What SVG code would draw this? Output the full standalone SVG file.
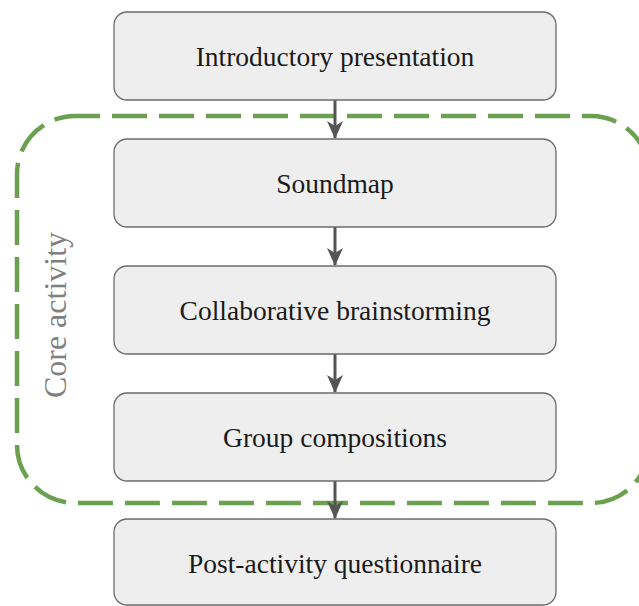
<svg xmlns="http://www.w3.org/2000/svg" width="639" height="606" viewBox="0 0 639 606">
<defs>
<style>
.box{fill:#eeeeee;stroke:#6b6b6b;stroke-width:1.3}
.lbl{font-family:"Liberation Serif","Times New Roman",serif;font-size:27.5px;fill:#1a1a1a;text-anchor:middle}
.conn{stroke:#555555;stroke-width:3;fill:none}
.group{fill:none;stroke:#6aa04f;stroke-width:4.5;stroke-dasharray:35 12}
.glabel{font-family:"Liberation Serif","Times New Roman",serif;font-size:32px;fill:#808080;text-anchor:middle}
</style>
<marker id="arr" markerWidth="18" markerHeight="16" viewBox="0 0 18 16" refX="17" refY="8" orient="auto" markerUnits="userSpaceOnUse">
<path d="M0,0 L18,8 L0,16 L5,8 Z" fill="#555555"/>
</marker>
</defs>
<g id="core-activity">
<rect class="group" x="17" y="116" width="632" height="387" rx="58" ry="58" stroke-dashoffset="10"/>
<text class="glabel" transform="translate(66,315) rotate(-90)">Core activity</text>
</g>
<g id="connectors">
<line class="conn" x1="335" y1="100" x2="335" y2="138" marker-end="url(#arr)"/>
<line class="conn" x1="335" y1="227" x2="335" y2="265" marker-end="url(#arr)"/>
<line class="conn" x1="335" y1="354" x2="335" y2="392" marker-end="url(#arr)"/>
<line class="conn" x1="335" y1="481" x2="335" y2="518" marker-end="url(#arr)"/>
</g>
<g id="introductory-presentation">
<rect class="box" x="114" y="12" width="442" height="88" rx="13"/>
<text class="lbl" x="335" y="66">Introductory presentation</text>
</g>
<g id="soundmap">
<rect class="box" x="114" y="139" width="442" height="88" rx="13"/>
<text class="lbl" x="335" y="193">Soundmap</text>
</g>
<g id="collaborative-brainstorming">
<rect class="box" x="114" y="266" width="442" height="88" rx="13"/>
<text class="lbl" x="335" y="320">Collaborative brainstorming</text>
</g>
<g id="group-compositions">
<rect class="box" x="114" y="393" width="442" height="88" rx="13"/>
<text class="lbl" x="335" y="447">Group compositions</text>
</g>
<g id="post-activity-questionnaire">
<rect class="box" x="114" y="519" width="442" height="86" rx="13"/>
<text class="lbl" x="335" y="573">Post-activity questionnaire</text>
</g>
</svg>
